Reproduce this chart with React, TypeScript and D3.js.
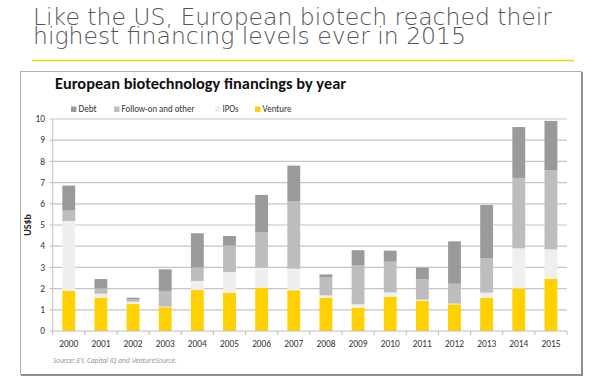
import React from "react";
import * as d3 from "d3";

const years = ["2000","2001","2002","2003","2004","2005","2006","2007","2008","2009","2010","2011","2012","2013","2014","2015"];
const venture = [1.89,1.57,1.27,1.12,1.93,1.81,2.04,1.92,1.57,1.10,1.62,1.42,1.26,1.57,2.01,2.47];
const ipos = [3.30,0.19,0.11,0.03,0.43,0.97,0.95,1.02,0.11,0.16,0.20,0.06,0.03,0.24,1.89,1.38];
const followOn = [0.49,0.25,0.13,0.74,0.64,1.25,1.66,3.19,0.84,1.85,1.45,0.97,0.94,1.63,3.32,3.74];
const debt = [1.18,0.44,0.06,1.02,1.61,0.45,1.77,1.67,0.15,0.70,0.52,0.54,2.00,2.50,2.40,2.32];
const yTicks = [0,1,2,3,4,5,6,7,8,9,10];

const seriesKeys = ["venture","ipos","followOn","debt"];
const seriesColors: Record<string,string> = {
  venture: "#ffd100",
  ipos: "#efefef",
  followOn: "#bdbdbd",
  debt: "#9a9a9a",
};
const legendItems = [
  { key: "debt", label: "Debt" },
  { key: "followOn", label: "Follow-on and other" },
  { key: "ipos", label: "IPOs" },
  { key: "venture", label: "Venture" },
];
const legendX = [71, 114, 215, 255];
const legendTextLen = [18, 73, 16, 29];

const rows = years.map((y, i) => ({
  year: y,
  venture: venture[i],
  ipos: ipos[i],
  followOn: followOn[i],
  debt: debt[i],
}));

const headline = "Like the US, European biotech reached their\nhighest financing levels ever in 2015";

const FONT = "Carlito, Calibri, 'Open Sans', sans-serif";

export default function App() {
  const x = d3.scaleBand<string>().domain(years).range([52.7, 567]).paddingInner(0.6).paddingOuter(0.3);
  const y = d3.scaleLinear().domain([0, 10]).range([331, 119]);
  const stacked = d3.stack<any>().keys(seriesKeys)(rows);
  const step = x.step();
  const gap = (step - x.bandwidth()) / 2;
  const boundaries = years.map((yr) => (x(yr) as number) - gap).concat([567]);

  return (
    <div style={{ position: "absolute", left: 0, top: 0 }}>
      <svg width={600} height={384} style={{ display: "block", background: "#fff" }}>
        <foreignObject x={0} y={0} width={600} height={58} style={{ overflow: "visible" }}>
          <div style={{
            fontFamily: "'DejaVu Sans', sans-serif", fontWeight: 200, fontSize: "23.5px", lineHeight: "18.6px",
            color: "#555", whiteSpace: "pre", margin: 0, paddingTop: "8.4px", paddingLeft: "33px",
          }}>{headline}</div>
        </foreignObject>
        <line x1={32} x2={574} y1={60.5} y2={60.5} stroke="#f2cd1a" strokeWidth={1.5} />

        {/* chart box */}
        <rect x={20.5} y={71.5} width={561} height={303} fill="#fff" stroke="#b0b0b0" strokeWidth={1} />
        <line x1={582} x2={582} y1={72} y2={376} stroke="#8e8e8e" strokeWidth={2} />
        <line x1={21} x2={583} y1={375} y2={375} stroke="#8e8e8e" strokeWidth={2} />

        <text x={55} y={89.3} fontFamily={FONT} fontWeight="bold" fontSize={15.5} fill="#111"
          textLength={291} lengthAdjust="spacingAndGlyphs">European biotechnology financings by year</text>

        {legendItems.map((it, i) => (
          <g key={it.key}>
            <rect x={legendX[i]} y={106.5} width={5.5} height={5.5} fill={seriesColors[it.key]} />
            <text x={legendX[i] + 7.5} y={112.3} fontFamily={FONT} fontSize={9.5} fill="#333"
              textLength={legendTextLen[i]} lengthAdjust="spacingAndGlyphs">{it.label}</text>
          </g>
        ))}

        {/* gridlines */}
        {yTicks.filter((t) => t > 0).map((t) => (
          <line key={t} x1={52.7} x2={567} y1={y(t)} y2={y(t)} stroke="#c6c6c6" strokeWidth={1.2} />
        ))}
        {/* y axis */}
        <line x1={52.7} x2={52.7} y1={119} y2={331} stroke="#c0c0c0" strokeWidth={1} />
        {yTicks.map((t) => (
          <g key={"yt" + t}>
            <line x1={49.5} x2={52.7} y1={y(t)} y2={y(t)} stroke="#c0c0c0" strokeWidth={1} />
            <text x={45} y={y(t) + 3.2} textAnchor="end" fontFamily={FONT} fontSize={9.4} fill="#333">{t}</text>
          </g>
        ))}
        <text transform="translate(30.5,225) rotate(-90)" textAnchor="middle" fontFamily={FONT} fontWeight="bold"
          fontSize={10} fill="#222">US$b</text>

        {/* bars */}
        {stacked.map((s) => (
          <g key={s.key} fill={seriesColors[s.key]}>
            {s.map((d, i) => (
              <rect key={i} x={x(years[i])} width={x.bandwidth()} y={y(d[1])} height={Math.max(0, y(d[0]) - y(d[1]))} />
            ))}
          </g>
        ))}

        {/* x axis */}
        <line x1={52.7} x2={567} y1={331} y2={331} stroke="#bdbdbd" strokeWidth={1.2} />
        {boundaries.map((b, i) => (
          <line key={"xb" + i} x1={b} x2={b} y1={331} y2={335} stroke="#bdbdbd" strokeWidth={1} />
        ))}
        {years.map((yr) => (
          <text key={"xl" + yr} x={(x(yr) as number) + x.bandwidth() / 2} y={347} textAnchor="middle"
            fontFamily={FONT} fontSize={9.4} fill="#333" textLength={19} lengthAdjust="spacingAndGlyphs">{yr}</text>
        ))}

        <text x={53} y={363} fontFamily={FONT} fontStyle="italic" fontSize={7} fill="#999"
          textLength={124} lengthAdjust="spacingAndGlyphs">Source: EY, Capital IQ and VentureSource.</text>
      </svg>
    </div>
  );
}
